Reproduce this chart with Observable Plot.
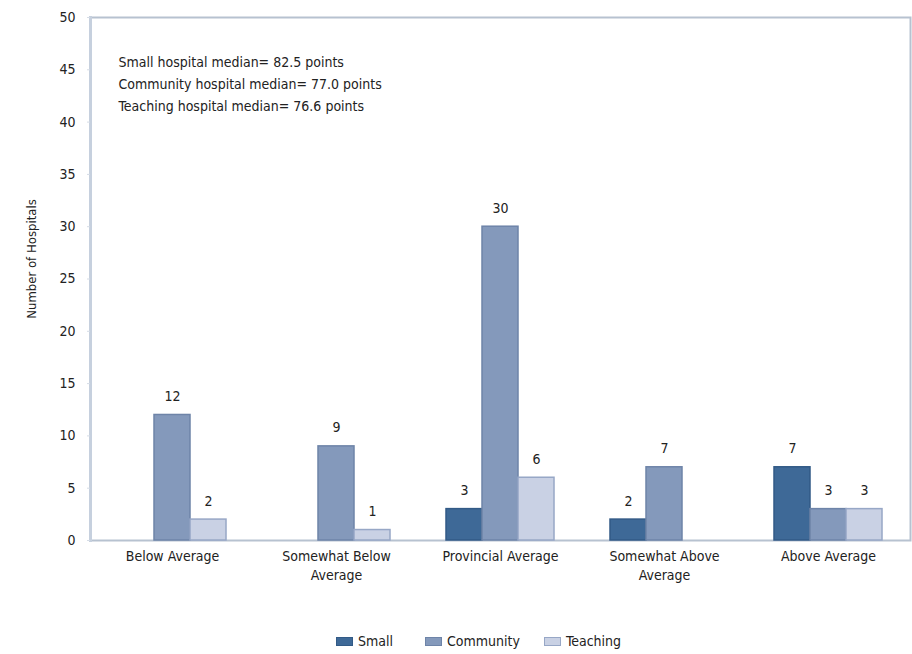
<!DOCTYPE html>
<html>
<head>
<meta charset="utf-8">
<script src="https://cdn.jsdelivr.net/npm/d3@7"></script>
<script src="https://cdn.jsdelivr.net/npm/@observablehq/plot@0.6"></script>
<style>
  body { margin: 0; background: #fff; font-family: "DejaVu Sans Condensed", sans-serif; }
  #chart svg { display: block; }
  .legend { display: flex; align-items: center; margin: 11px 0 0 336px; height: 20px; font-size: 14px; color: #222; }
  .legend .item { display: flex; align-items: center; margin-right: 32px; }
  .legend .item:nth-child(2) { margin-right: 24px; }
  .legend .sw { width: 17px; height: 9px; margin-right: 5px; border: 1px solid; box-sizing: border-box; }
</style>
</head>
<body>
<div id="chart"></div>
<script>
// Hospital counts by performance band, split by hospital type
const categories = ["Below Average", "Somewhat Below Average", "Provincial Average", "Somewhat Above Average", "Above Average"];
const categoryLabels = ["Below Average", "Somewhat Below\nAverage", "Provincial Average", "Somewhat Above\nAverage", "Above Average"];
const types = ["Small", "Community", "Teaching"];
const smallCounts = [0, 0, 3, 2, 7];
const communityCounts = [12, 9, 30, 7, 3];
const teachingCounts = [2, 1, 6, 0, 3];
const typeFills = ["#3e6997", "#8499bb", "#c9d1e4"];
const typeStrokes = ["#325a86", "#6e84a8", "#97a7c6"];
const yTicks = [0, 5, 10, 15, 20, 25, 30, 35, 40, 45, 50];
const medianNotes = [
  "Small hospital median= 82.5 points",
  "Community hospital median= 77.0 points",
  "Teaching hospital median= 76.6 points"
];
const yLabel = "Number of Hospitals";

const series = [smallCounts, communityCounts, teachingCounts];
const rows = [];
categories.forEach((c, i) => {
  types.forEach((t, j) => {
    rows.push({category: c, type: t, count: series[j][i]});
  });
});
const bars = rows.filter(d => d.count > 0);

const chart = Plot.plot({
  width: 912,
  height: 620,
  marginLeft: 89,
  marginRight: 1,
  marginTop: 17,
  marginBottom: 80,
  style: {fontFamily: "'DejaVu Sans Condensed', sans-serif", fontSize: "14px", color: "#222", background: "#fff"},
  fx: {domain: categories, padding: 0, label: null},
  x: {domain: types, paddingInner: 0, paddingOuter: 0.74, axis: null},
  y: {domain: [0, 50], label: null},
  color: {domain: types, range: typeFills},
  marks: [
    Plot.frame({stroke: "#b7c2d0", strokeWidth: 2, facet: "super"}),
    Plot.frame({anchor: "left", stroke: "#c6d0de", strokeWidth: 3, facet: "super"}),
    Plot.axisY({ticks: yTicks, tickSize: 3, tickPadding: 12, stroke: "#d5dce6", label: null, fontSize: 14}),
    Plot.axisFx({anchor: "bottom", tickSize: 0, tickPadding: 7, label: null, lineHeight: 1.36, fontSize: 14,
      tickFormat: d => categoryLabels[categories.indexOf(d)]}),
    Plot.barY(bars, {
      fx: "category", x: "type", y: "count",
      fill: "type",
      stroke: d => typeStrokes[types.indexOf(d.type)],
      strokeWidth: 1.5, inset: 0
    }),
    Plot.text(bars, {
      fx: "category", x: "type", y: "count", text: d => String(d.count),
      dy: -14, lineAnchor: "bottom", fontSize: 14, fill: "#222"
    }),
    Plot.text([medianNotes.join("\n")], {
      frameAnchor: "top-left", dx: 28, dy: 34, lineAnchor: "top", textAnchor: "start",
      lineHeight: 1.57, fontSize: 14, fill: "#222", facet: "super"
    }),
    Plot.text([yLabel], {
      frameAnchor: "left", textAnchor: "middle", dx: -59, dy: -20, rotate: -90, fontSize: 13, fill: "#222", facet: "super"
    })
  ]
});
document.getElementById("chart").appendChild(chart);

const legend = document.createElement("div");
legend.className = "legend";
types.forEach((t, j) => {
  const item = document.createElement("div");
  item.className = "item";
  const sw = document.createElement("span");
  sw.className = "sw";
  sw.style.background = typeFills[j];
  sw.style.borderColor = typeStrokes[j];
  const label = document.createElement("span");
  label.textContent = t;
  item.appendChild(sw);
  item.appendChild(label);
  legend.appendChild(item);
});
document.body.appendChild(legend);
</script>
</body>
</html>
